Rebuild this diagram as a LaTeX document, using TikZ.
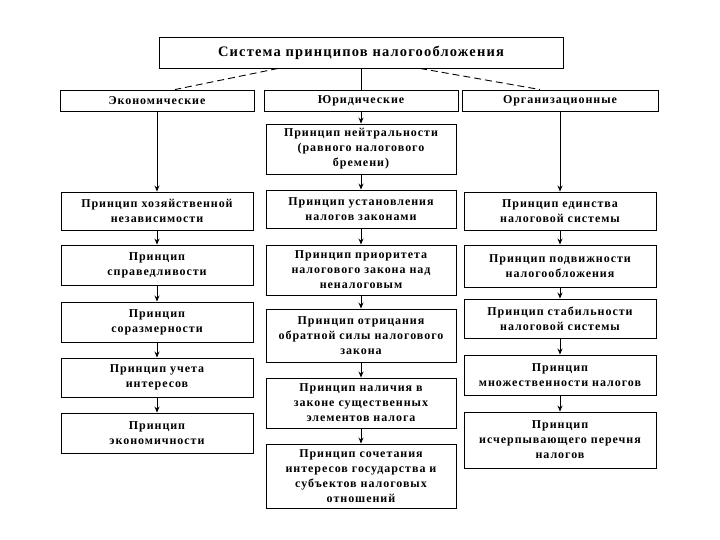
\documentclass[tikz,border=0pt]{standalone}
\usepackage{fontspec}
\setmainfont[LetterSpace=8]{Liberation Serif}
\usetikzlibrary{arrows.meta,calc}
\begin{document}
\begin{tikzpicture}[x=1pt,y=-1pt,
  box/.style={draw=black,line width=0.9pt,fill=white,inner sep=0pt,align=center,
    font=\fontsize{12}{15}\selectfont\bfseries},
  arr/.style={draw=black,line width=0.9pt,-{Stealth[length=6pt,width=5pt]}},
  lnk/.style={draw=black,line width=0.9pt},
  dlnk/.style={draw=black,line width=0.9pt,dash pattern=on 7pt off 4pt}]
\useasboundingbox (0,0) rectangle (720,540);
\fill[white] (0,0) rectangle (720,540);
% title and groups
\node[box,minimum width=404pt,minimum height=31pt,font=\fontsize{14.5}{17}\selectfont\bfseries] (title) at (361,52.5) {Система принципов налогообложения};
\node[box,minimum width=194pt,minimum height=21pt] (ek) at (157,100.5) {Экономические};
\node[box,minimum width=194pt,minimum height=21pt] (yur) at (361,100.5) {Юридические};
\node[box,minimum width=196pt,minimum height=21pt] (org) at (560,100.5) {Организационные};
% left column
\node[box,minimum width=192pt,minimum height=38pt] (l1) at (157,211) {Принцип хозяйственной\\независимости};
\node[box,minimum width=192pt,minimum height=40pt] (l2) at (157,265) {Принцип\\справедливости};
\node[box,minimum width=192pt,minimum height=40pt] (l3) at (157,322) {Принцип\\соразмерности};
\node[box,minimum width=192pt,minimum height=39pt] (l4) at (157,377.5) {Принцип учета\\интересов};
\node[box,minimum width=192pt,minimum height=40pt] (l5) at (157,433) {Принцип\\экономичности};
% middle column
\node[box,minimum width=190pt,minimum height=50pt] (m0) at (361,149) {Принцип нейтральности\\(равного налогового\\бремени)};
\node[box,minimum width=190pt,minimum height=38pt] (m1) at (361,209) {Принцип установления\\налогов законами};
\node[box,minimum width=190pt,minimum height=50pt] (m2) at (361,270) {Принцип приоритета\\налогового закона над\\неналоговым};
\node[box,minimum width=190pt,minimum height=53pt] (m3) at (361,335.5) {Принцип отрицания\\обратной силы налогового\\закона};
\node[box,minimum width=190pt,minimum height=50pt] (m4) at (361,403) {Принцип наличия в\\законе существенных\\элементов налога};
\node[box,minimum width=190pt,minimum height=64pt] (m5) at (361,476) {Принцип сочетания\\интересов государства и\\субъектов налоговых\\отношений};
% right column
\node[box,minimum width=192pt,minimum height=38pt] (r1) at (560,211) {Принцип единства\\налоговой системы};
\node[box,minimum width=192pt,minimum height=42pt] (r2) at (560,266) {Принцип подвижности\\налогообложения};
\node[box,minimum width=192pt,minimum height=39pt] (r3) at (560,318.5) {Принцип стабильности\\налоговой системы};
\node[box,minimum width=192pt,minimum height=40pt] (r4) at (560,375) {Принцип\\множественности налогов};
\node[box,minimum width=192pt,minimum height=56pt] (r5) at (560,440) {Принцип\\исчерпывающего перечня\\налогов};
% top connectors
\coordinate (dl1) at ($(title.south)+(-83,0)$);
\coordinate (dl2) at ($(ek.north)+(18,0)$);
\coordinate (dr1) at ($(title.south)+(59,0)$);
\coordinate (dr2) at ($(org.north)+(-20,0)$);
\draw[dlnk] (dl1) -- (dl2);
\draw[dlnk] (dr1) -- (dr2);
\draw[lnk] (title.south) -- (yur.north);
% arrows
\draw[arr] (ek) -- (l1);
\draw[arr] (l1) -- (l2);
\draw[arr] (l2) -- (l3);
\draw[arr] (l3) -- (l4);
\draw[arr] (l4) -- (l5);
\draw[arr] (yur) -- (m0);
\draw[arr] (m0) -- (m1);
\draw[arr] (m1) -- (m2);
\draw[arr] (m2) -- (m3);
\draw[arr] (m3) -- (m4);
\draw[arr] (m4) -- (m5);
\draw[arr] (org) -- (r1);
\draw[arr] (r1) -- (r2);
\draw[arr] (r2) -- (r3);
\draw[arr] (r3) -- (r4);
\draw[arr] (r4) -- (r5);
\end{tikzpicture}
\end{document}
